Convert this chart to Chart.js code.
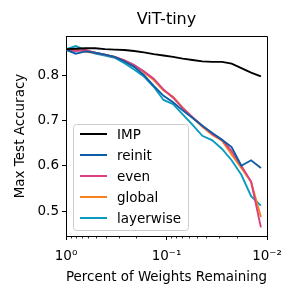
<!DOCTYPE html>
<html>
<head>
<meta charset="utf-8">
<script src="https://cdn.jsdelivr.net/npm/chart.js@4/dist/chart.umd.min.js"></script>
<style>
  html, body { margin: 0; padding: 0; background: #fff; }
  #wrap { width: 299px; height: 299px; }
</style>
</head>
<body>
<div id="wrap"><canvas id="mainChart"></canvas></div>
<script>
// --- Data ---
const fractionRemaining = [1, 0.8, 0.64, 0.512, 0.41, 0.328, 0.262, 0.21, 0.168, 0.134, 0.107,
    0.086, 0.069, 0.055, 0.044, 0.035, 0.028, 0.0225, 0.018, 0.0144, 0.0115];

const impAcc = [0.857, 0.858, 0.859, 0.859, 0.857, 0.856, 0.855, 0.853, 0.850, 0.846, 0.843,
    0.840, 0.836, 0.833, 0.830, 0.829, 0.829, 0.825, 0.815, 0.805, 0.797];
const reinitAcc = [0.856, 0.847, 0.852, 0.849, 0.845, 0.840, 0.830, 0.818, 0.800, 0.776, 0.754,
    0.740, 0.722, 0.705, 0.688, 0.672, 0.657, 0.641, 0.600, 0.612, 0.595];
const evenAcc = [0.855, 0.853, 0.855, 0.849, 0.845, 0.840, 0.832, 0.822, 0.808, 0.792, 0.768,
    0.750, 0.727, 0.707, 0.688, 0.670, 0.657, 0.632, 0.600, 0.565, 0.464];
const globalAcc = [0.857, 0.857, 0.851, 0.849, 0.845, 0.840, 0.832, 0.822, 0.806, 0.789, 0.766,
    0.752, 0.728, 0.706, 0.686, 0.668, 0.655, 0.625, 0.595, 0.564, 0.487];
const layerwiseAcc = [0.857, 0.864, 0.855, 0.847, 0.843, 0.838, 0.826, 0.812, 0.797, 0.774, 0.745,
    0.736, 0.713, 0.690, 0.666, 0.656, 0.637, 0.612, 0.580, 0.533, 0.512];

const seriesNames = ['IMP', 'reinit', 'even', 'global', 'layerwise'];
const seriesColors = ['#000000', '#0c5da5', '#d9407f', '#f7801f', '#0a9bc0'];
const seriesValues = [impAcc, reinitAcc, evenAcc, globalAcc, layerwiseAcc];

const yTicks = [0.5, 0.6, 0.7, 0.8];
const xMajorTicks = [1, 0.1, 0.01];
const xTickLabels = { 1: '10\u2070', 0.1: '10\u207B\u00B9', 0.01: '10\u207B\u00B2' };
const xMinorTicks = [0.9, 0.8, 0.7, 0.6, 0.5, 0.4, 0.3, 0.2,
    0.09, 0.08, 0.07, 0.06, 0.05, 0.04, 0.03, 0.02];

const FONT = "'DejaVu Sans', sans-serif";

// title, top/right spines, minor ticks + legend drawn like matplotlib
const overlayPlugin = {
    id: 'overlay',
    afterDraw(chart) {
        const ctx = chart.ctx;
        const area = chart.chartArea;
        const xScale = chart.scales.x;
        ctx.save();

        // box spines
        ctx.strokeStyle = '#000';
        ctx.lineWidth = 1;
        ctx.beginPath();
        ctx.moveTo(area.left, area.top + 0.5);
        ctx.lineTo(area.right + 0.5, area.top + 0.5);
        ctx.lineTo(area.right + 0.5, area.bottom);
        ctx.stroke();

        // minor ticks (shorter)
        ctx.lineWidth = 0.8;
        ctx.beginPath();
        xMinorTicks.forEach(v => {
            const px = Math.round(xScale.getPixelForValue(v)) + 0.5;
            ctx.moveTo(px, area.bottom);
            ctx.lineTo(px, area.bottom + 2.5);
        });
        ctx.stroke();

        // title
        ctx.fillStyle = '#000';
        ctx.font = '16px ' + FONT;
        ctx.textAlign = 'center';
        ctx.textBaseline = 'middle';
        ctx.fillText('ViT-tiny', (area.left + area.right) / 2, 20);

        // legend box
        const bx = area.left + 7, by = area.top + 88, bw = 115, bh = 106;
        ctx.beginPath();
        ctx.roundRect(bx + 0.5, by + 0.5, bw, bh, 3);
        ctx.fillStyle = 'rgba(255,255,255,0.8)';
        ctx.fill();
        ctx.strokeStyle = '#cccccc';
        ctx.lineWidth = 1;
        ctx.stroke();

        ctx.font = '13.5px ' + FONT;
        ctx.textAlign = 'left';
        chart.data.datasets.forEach((ds, i) => {
            const cy = by + 10 + i * 21;
            ctx.beginPath();
            ctx.moveTo(bx + 7, cy);
            ctx.lineTo(bx + 34, cy);
            ctx.strokeStyle = ds.borderColor;
            ctx.lineWidth = 2;
            ctx.stroke();
            ctx.fillStyle = '#000';
            ctx.fillText(ds.label, bx + 44, cy + 1);
        });
        ctx.restore();
    }
};

const ctxMain = document.getElementById('mainChart').getContext('2d');

new Chart(ctxMain, {
    type: 'line',
    data: {
        datasets: seriesNames.map((name, i) => ({
            label: name,
            data: fractionRemaining.map((f, j) => ({ x: f, y: seriesValues[i][j] })),
            borderColor: seriesColors[i],
            backgroundColor: seriesColors[i],
            borderWidth: 1.9,
            pointRadius: 0,
            tension: 0,
            fill: false
        }))
    },
    options: {
        responsive: true,
        maintainAspectRatio: false,
        animation: false,
        devicePixelRatio: 1,
        layout: { padding: { top: 36, right: 32, left: 12, bottom: 13 } },
        plugins: {
            legend: { display: false },
            title: { display: false },
            tooltip: { enabled: false }
        },
        scales: {
            x: {
                type: 'logarithmic',
                reverse: true,
                min: 0.01,
                max: 1,
                afterBuildTicks: (scale) => {
                    scale.ticks = xMajorTicks.map(v => ({ value: v, major: true }));
                },
                afterFit: (scale) => { scale.height = 50; },
                border: { display: true, color: '#000', width: 1 },
                grid: {
                    drawOnChartArea: false,
                    drawTicks: true,
                    tickLength: 4,
                    tickColor: '#000'
                },
                ticks: {
                    autoSkip: false,
                    maxRotation: 0,
                    color: '#000',
                    padding: 8,
                    font: { family: FONT, size: 13.5 },
                    callback: (value) => xTickLabels[value] || ''
                },
                title: {
                    display: true,
                    text: 'Percent of Weights Remaining',
                    color: '#000',
                    font: { family: FONT, size: 13.5 },
                    padding: { top: 2, bottom: 0 }
                }
            },
            y: {
                type: 'linear',
                min: 0.445,
                max: 0.886,
                afterBuildTicks: (scale) => {
                    scale.ticks = yTicks.map(v => ({ value: v }));
                },
                afterFit: (scale) => { scale.width = 54; },
                border: { display: true, color: '#000', width: 1 },
                grid: {
                    drawOnChartArea: false,
                    drawTicks: true,
                    tickLength: 4,
                    tickColor: '#000'
                },
                ticks: {
                    color: '#000',
                    padding: 3,
                    font: { family: FONT, size: 13.5 },
                    callback: (value) => value.toFixed(1)
                },
                title: {
                    display: true,
                    text: 'Max Test Accuracy',
                    color: '#000',
                    font: { family: FONT, size: 13.5 },
                    padding: { top: 0, bottom: 4 }
                }
            }
        }
    },
    plugins: [overlayPlugin]
});
</script>
</body>
</html>
